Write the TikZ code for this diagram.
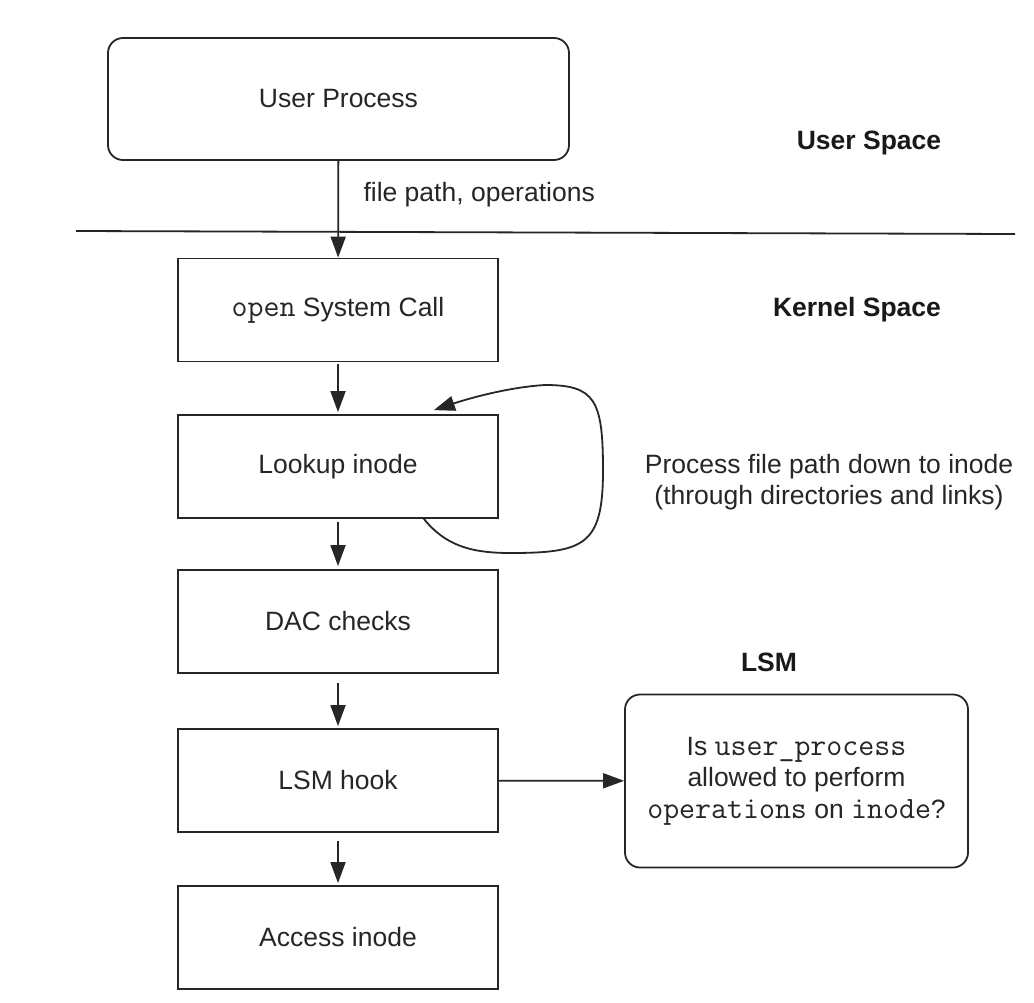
\documentclass[tikz,border=0pt]{standalone}
\usepackage{fontspec}
\setmainfont{Liberation Sans}
\usetikzlibrary{arrows.meta,calc}
\newcommand\cwtt[1]{{\fontsize{31}{31.5}\selectfont\ttfamily #1}}
\begin{document}
\begin{tikzpicture}[x=1pt,y=-1pt,
  every node/.style={font=\fontsize{26.5}{31.5}\selectfont, text=black!85},
  line/.style={draw=black!85, line width=1.8pt},
  arr/.style={line, -{Triangle[length=21pt,width=15pt]}},
  boxnode/.style={line, rectangle, minimum width=320pt, minimum height=103pt, inner sep=0pt},
  roundnode/.style={line, rectangle, rounded corners=15pt, inner sep=0pt},
  heading/.style={font=\bfseries\fontsize{26.5}{31.5}\selectfont, text=black!90}]
\useasboundingbox (0,0) rectangle (1034,1002);
\fill[white] (0,0) rectangle (1034,1002);

\node[roundnode, minimum width=461pt, minimum height=122pt] (user) at (338.5,99) {User Process};
\node[boxnode] (open) at (338,310) {\cwtt{open} System Call};
\node[boxnode] (lookup) at (338,466.5) {Lookup inode};
\node[boxnode] (dac) at (338,621.5) {DAC checks};
\node[boxnode] (hook) at (338,780.5) {LSM hook};
\node[boxnode] (access) at (338,937.5) {Access inode};
\node[roundnode, minimum width=343pt, minimum height=173pt, align=center] (lsm) at (796.5,781)
  {Is \cwtt{user\_process}\\allowed to perform\\\cwtt{operations} on \cwtt{inode}?};

\node[heading] (us) at (869,143) {User Space};
\node[heading] (ks) at (857,310) {Kernel Space};
\node[heading] (lsmh) at (769,662) {LSM};
\node[anchor=west] (fp) at (360,195) {file path, operations};
\node[align=center] (proc) at (829,482) {Process file path down to inode\\(through directories and links)};

\coordinate (sepL) at (76,231);
\coordinate (sepR) at (1015,234);
\draw[line] (sepL) -- (sepR);

\draw[arr] (user) -- (open);
\draw[arr, shorten <=2pt, shorten >=2pt] (open) -- (lookup);
\draw[arr, shorten <=3pt, shorten >=3pt] (lookup) -- (dac);
\draw[arr, shorten <=9pt, shorten >=2pt] (dac) -- (hook);
\draw[arr, shorten <=8pt, shorten >=2pt] (hook) -- (access);
\draw[arr] (hook) -- (lsm);

\coordinate (loopS) at ($(lookup.south east)+(-75,0)$);
\coordinate (loopE) at ($(lookup.north east)+(-65,-4)$);
\draw[arr] (loopS) .. controls (445,545) and (470,553) .. (510,553)
  .. controls (585,553) and (603,545) .. (603,470)
  .. controls (603,400) and (595,385) .. (545,385)
  .. controls (510,387) and (470,398) .. (loopE);
\end{tikzpicture}
\end{document}
